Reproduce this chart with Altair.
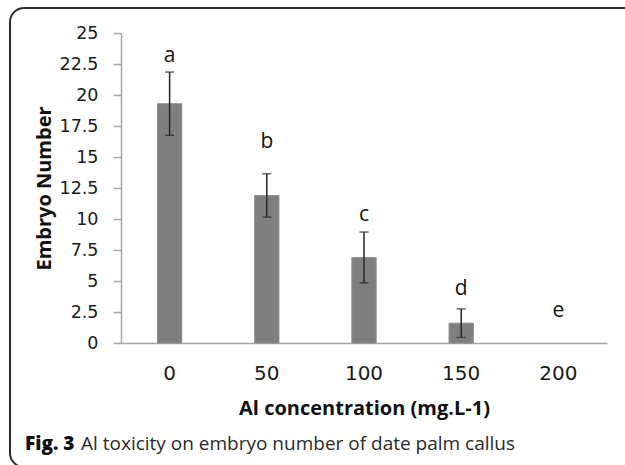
import altair as alt
import pandas as pd

# ---- data ----
concentration = ["0", "50", "100", "150", "200"]
embryo_mean = [19.3, 11.9, 6.9, 1.6, 0.0]
embryo_sd = [2.55, 1.75, 2.05, 1.15, 0.0]
letters = ["a", "b", "c", "d", "e"]
letter_pos = [22.7, 15.7, 9.8, 3.9, 2.1]
y_ticks = [0, 2.5, 5, 7.5, 10, 12.5, 15, 17.5, 20, 22.5, 25]

df = pd.DataFrame({
    "conc": concentration,
    "mean": embryo_mean,
    "sd": embryo_sd,
    "letter": letters,
    "lpos": letter_pos,
})
df["lo"] = df["mean"] - df["sd"]
df["hi"] = df["mean"] + df["sd"]

W, H = 486, 310
BAR = "#7f7f7f"
AX = "#a6a6a6"

x_scale = alt.Scale(domain=concentration, paddingInner=0.75, paddingOuter=0.375)
x_axis = alt.Axis(
    title="Al concentration (mg.L-1)", labelAngle=0, ticks=False, tickSize=0,
    labelPadding=30, labelBaseline="middle", labelFont="DejaVu Sans",
    labelFontSize=20, labelColor="#1a1a1a", domainColor=AX, domainWidth=1.5,
    titleFont="Open Sans", titleFontSize=20, titleFontWeight="bold",
    titleColor="#111", titleX=243, titleY=65, titleBaseline="middle",
    titleAlign="center",
)
y_scale = alt.Scale(domain=[0, 25], nice=False)
y_axis = alt.Axis(
    title="Embryo Number", values=y_ticks, format=".1~f", grid=False,
    labelOverlap=False,
    tickSize=8, tickColor=AX, tickWidth=1.5, labelPadding=15,
    labelFont="DejaVu Sans", labelFontSize=17.5, labelColor="#1a1a1a",
    domainColor=AX, domainWidth=1.5,
    titleFont="Open Sans", titleFontSize=20, titleFontWeight="bold", titleColor="#111",
    titleAngle=-90, titleX=-77, titleY=H / 2, titleAlign="center",
    titleBaseline="middle",
)

base = alt.Chart(df)
xo = alt.X("conc:O", scale=x_scale, axis=x_axis)


def yq(field):
    return alt.Y(field, scale=y_scale, axis=y_axis)


bars = base.transform_filter("datum.mean > 0").mark_bar(
    color=BAR, stroke="#8e8e8e", strokeWidth=1
).encode(x=xo, y=yq("mean:Q"))

eb = base.transform_filter("datum.sd > 0")
err_rule = eb.mark_rule(color="#262626", strokeWidth=1.5).encode(
    x=xo, y=yq("lo:Q"), y2="hi:Q"
)
cap_lo = eb.mark_tick(color="#262626", size=9, thickness=1.5).encode(
    x=xo, y=yq("lo:Q")
)
cap_hi = eb.mark_tick(color="#262626", size=9, thickness=1.5).encode(
    x=xo, y=yq("hi:Q")
)

letter_txt = base.mark_text(
    font="Open Sans", fontSize=21, color="#111", baseline="alphabetic", align="center"
).encode(x=xo, y=yq("lpos:Q"), text="letter:N")

one = alt.Data(values=[{"k": 1}])
frame = alt.Chart(one).mark_rect(
    fill=None, stroke="#2b2b2b", strokeWidth=2, cornerRadius=14
).encode(
    x=alt.value(-111), x2=alt.value(530), y=alt.value(-25), y2=alt.value(434)
)
cap_bold = alt.Chart(one).mark_text(
    text="Fig. 3", font="Open Sans", fontSize=19, fontWeight=800,
    color="#111", align="left", baseline="middle"
).encode(x=alt.value(-96), y=alt.value(411))
cap_rest = alt.Chart(one).mark_text(
    text="Al toxicity on embryo number of date palm callus", font="Open Sans",
    fontSize=19, color="#2a2a2a", align="left", baseline="middle"
).encode(x=alt.value(-40), y=alt.value(411))

chart = alt.layer(
    bars, err_rule, cap_lo, cap_hi, letter_txt, frame, cap_bold, cap_rest
).properties(
    width=W, height=H,
    autosize=alt.AutoSizeParams(type="none"),
    padding={"left": 121, "top": 33, "right": 18, "bottom": 122},
    background="white",
).configure_view(stroke=None)

chart.save("out.html", embed_options={"renderer": "svg", "actions": False})
